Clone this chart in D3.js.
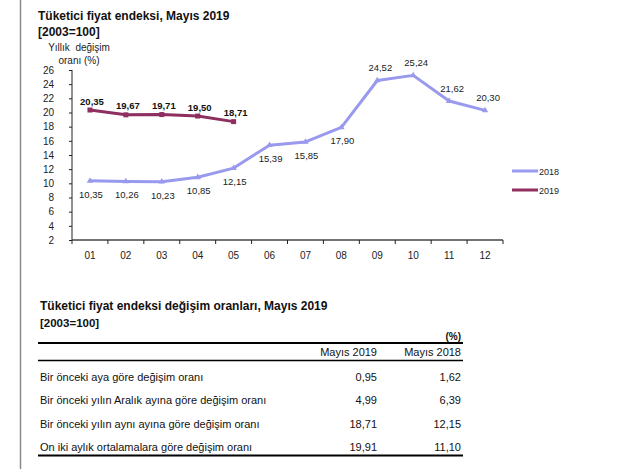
<!DOCTYPE html>
<html>
<head>
<meta charset="utf-8">
<script src="https://cdn.jsdelivr.net/npm/d3@7"></script>
<style>
  html, body { margin: 0; padding: 0; background: #fff; }
  svg { display: block; font-family: "Liberation Sans", Arial, sans-serif; }
</style>
</head>
<body>
<svg id="chart" width="640" height="469"></svg>
<script>
// ---- Data ----
const months = ["01","02","03","04","05","06","07","08","09","10","11","12"];
const values2018 = [10.35, 10.26, 10.23, 10.85, 12.15, 15.39, 15.85, 17.90, 24.52, 25.24, 21.62, 20.30];
const values2019 = [20.35, 19.67, 19.71, 19.50, 18.71];
const seriesNames = ["2018", "2019"];
const yTicks = [2,4,6,8,10,12,14,16,18,20,22,24,26];

const tableColumns = ["Mayıs 2019", "Mayıs 2018"];
const tableRows = [
  "Bir önceki aya göre değişim oranı",
  "Bir önceki yılın Aralık ayına göre değişim oranı",
  "Bir önceki yılın aynı ayına göre değişim oranı",
  "On iki aylık ortalamalara göre değişim oranı"
];
const tableValues2019 = ["0,95", "4,99", "18,71", "19,91"];
const tableValues2018 = ["1,62", "6,39", "12,15", "11,10"];

// ---- Drawing ----
const svg = d3.select("#chart");
const fmt = v => v.toFixed(2).replace(".", ",");
const colors = { "2018": "#9999ee", "2019": "#8e2f5f" };

// left border line
svg.append("line").attr("x1", 20.5).attr("x2", 20.5).attr("y1", 0).attr("y2", 469)
  .attr("stroke", "#8a8a8a").attr("stroke-width", 1.5);

// titles
svg.append("text").attr("x", 38).attr("y", 20).attr("font-size", 12).attr("font-weight", "bold")
  .attr("fill", "#111").text("Tüketici fiyat endeksi, Mayıs 2019");
svg.append("text").attr("x", 38).attr("y", 36).attr("font-size", 12).attr("font-weight", "bold")
  .attr("fill", "#111").text("[2003=100]");
svg.append("text").attr("x", 79).attr("y", 51).attr("font-size", 10).attr("text-anchor", "middle")
  .attr("fill", "#222").text("Yıllık  değişim").attr("xml:space", "preserve").style("white-space", "pre");
svg.append("text").attr("x", 79).attr("y", 64).attr("font-size", 10).attr("text-anchor", "middle")
  .attr("fill", "#222").text("oranı (%)");

const x = d3.scaleBand().domain(months).range([72, 503]);
const y = d3.scaleLinear().domain([2, 26]).range([240, 70]);
const cx = m => x(m) + x.bandwidth() / 2;

// y axis
const yAxis = svg.append("g").attr("transform", "translate(72,0)")
  .call(d3.axisLeft(y).tickValues(yTicks).tickSize(3).tickPadding(15).tickFormat(d3.format("d")));
yAxis.selectAll("text").attr("font-size", 10).attr("fill", "#222").attr("font-family", "Liberation Sans, Arial, sans-serif");
yAxis.selectAll("line").attr("stroke", "#222");
yAxis.select(".domain").attr("stroke", "#222").attr("d", `M0,${y(26)}V${y(2)}`);

// x axis
const xAxis = svg.append("g").attr("transform", "translate(0,240)")
  .call(d3.axisBottom(x).tickSize(0).tickPadding(12));
xAxis.selectAll("text").attr("font-size", 10).attr("fill", "#222").attr("font-family", "Liberation Sans, Arial, sans-serif");
xAxis.select(".domain").attr("stroke", "#444").attr("stroke-width", 1.5).attr("d", `M${x.range()[0]},0H${x.range()[1]}`);
const boundaries = months.map(m => x(m)).concat([x.range()[1]]);
xAxis.selectAll(".bt").data(boundaries).join("line").attr("class", "bt")
  .attr("x1", d => d).attr("x2", d => d).attr("y1", 0).attr("y2", 4).attr("stroke", "#222");

// lines
const line = d3.line().x(d => cx(d.m)).y(d => y(d.v));
const d2018 = months.map((m, i) => ({ m, v: values2018[i] }));
const d2019 = values2019.map((v, i) => ({ m: months[i], v }));

svg.append("path").datum(d2018).attr("d", line).attr("fill", "none")
  .attr("stroke", colors["2018"]).attr("stroke-width", 3).attr("stroke-linejoin", "round");
svg.append("path").datum(d2019).attr("d", line).attr("fill", "none")
  .attr("stroke", colors["2019"]).attr("stroke-width", 3).attr("stroke-linejoin", "round");

// markers
svg.selectAll(".m18").data(d2018).join("path").attr("class", "m18")
  .attr("d", d3.symbol(d3.symbolTriangle, 18))
  .attr("transform", d => `translate(${cx(d.m)},${y(d.v)})`).attr("fill", colors["2018"]);
svg.selectAll(".m19").data(d2019).join("rect").attr("class", "m19")
  .attr("x", d => cx(d.m) - 2.5).attr("y", d => y(d.v) - 2.5).attr("width", 5).attr("height", 5)
  .attr("fill", colors["2019"]);

// labels
svg.selectAll(".l18").data(d2018).join("text").attr("class", "l18")
  .attr("x", d => cx(d.m) + (d.v > 20 ? 3 : 1))
  .attr("y", d => d.v > 20 ? y(d.v) - 9 : y(d.v) + 17)
  .attr("text-anchor", "middle").attr("font-size", 9.5).attr("fill", "#222")
  .text(d => fmt(d.v));
svg.selectAll(".l19").data(d2019).join("text").attr("class", "l19")
  .attr("x", d => cx(d.m) + 2).attr("y", d => y(d.v) - 5.5)
  .attr("text-anchor", "middle").attr("font-size", 9.5).attr("font-weight", "bold").attr("fill", "#111")
  .text(d => fmt(d.v));

// legend
const legend = svg.append("g");
seriesNames.forEach((s, i) => {
  const ly = 171 + i * 19;
  legend.append("line").attr("x1", 512).attr("x2", 538).attr("y1", ly).attr("y2", ly)
    .attr("stroke", colors[s]).attr("stroke-width", 3);
  legend.append("text").attr("x", 539).attr("y", ly + 3.5).attr("font-size", 9).attr("fill", "#222").text(s);
});

// ---- Table ----
svg.append("text").attr("x", 40).attr("y", 310).attr("font-size", 12).attr("font-weight", "bold")
  .attr("fill", "#111").text("Tüketici fiyat endeksi değişim oranları, Mayıs 2019");
svg.append("text").attr("x", 40).attr("y", 327).attr("font-size", 11.5).attr("font-weight", "bold")
  .attr("fill", "#111").text("[2003=100]");
svg.append("text").attr("x", 461).attr("y", 340).attr("font-size", 10).attr("font-weight", "bold")
  .attr("text-anchor", "end").attr("fill", "#111").text("(%)");

const tl = 38, tr = 463;
svg.append("line").attr("x1", tl).attr("x2", tr).attr("y1", 343).attr("y2", 343).attr("stroke", "#000").attr("stroke-width", 2);
svg.append("line").attr("x1", tl).attr("x2", tr).attr("y1", 360.5).attr("y2", 360.5).attr("stroke", "#000").attr("stroke-width", 1.3);
svg.append("line").attr("x1", tl).attr("x2", tr).attr("y1", 455.5).attr("y2", 455.5).attr("stroke", "#000").attr("stroke-width", 2);

const colX = [377, 461];
tableColumns.forEach((c, i) => {
  svg.append("text").attr("x", colX[i]).attr("y", 356).attr("font-size", 11).attr("text-anchor", "end")
    .attr("fill", "#111").text(c);
});
const rowY = d3.scalePoint().domain(tableRows).range([381, 451]);
tableRows.forEach((r, i) => {
  svg.append("text").attr("x", 40).attr("y", rowY(r)).attr("font-size", 11).attr("fill", "#111").text(r);
  svg.append("text").attr("x", colX[0]).attr("y", rowY(r)).attr("font-size", 11).attr("text-anchor", "end")
    .attr("fill", "#111").text(tableValues2019[i]);
  svg.append("text").attr("x", colX[1]).attr("y", rowY(r)).attr("font-size", 11).attr("text-anchor", "end")
    .attr("fill", "#111").text(tableValues2018[i]);
});
</script>
</body>
</html>
